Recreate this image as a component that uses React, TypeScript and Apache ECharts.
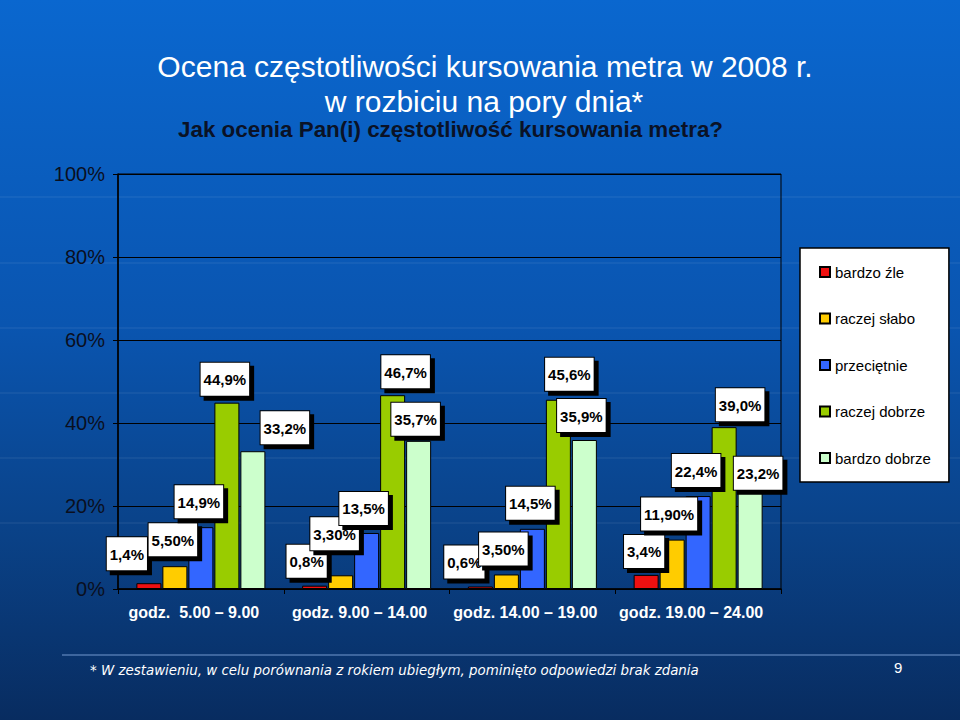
import React, { useEffect, useRef } from "react";
import * as echarts from "echarts";

const categories = [
  "godz.  5.00 – 9.00",
  "godz. 9.00 – 14.00",
  "godz. 14.00 – 19.00",
  "godz. 19.00 – 24.00",
];

const seriesNames = ["bardzo źle", "raczej słabo", "przeciętnie", "raczej dobrze", "bardzo dobrze"];

const bardzoZle = [1.4, 0.8, 0.6, 3.4];
const raczejSlabo = [5.5, 3.3, 3.5, 11.9];
const przecietnie = [14.9, 13.5, 14.5, 22.4];
const raczejDobrze = [44.9, 46.7, 45.6, 39.0];
const bardzoDobrze = [33.2, 35.7, 35.9, 23.2];

// label texts as printed on the chart (some with two decimals)
const bardzoZleLabels = ["1,4%", "0,8%", "0,6%", "3,4%"];
const raczejSlaboLabels = ["5,50%", "3,30%", "3,50%", "11,90%"];
const przecietnieLabels = ["14,9%", "13,5%", "14,5%", "22,4%"];
const raczejDobrzeLabels = ["44,9%", "46,7%", "45,6%", "39,0%"];
const bardzoDobrzeLabels = ["33,2%", "35,7%", "35,9%", "23,2%"];

const yTicks = [0, 20, 40, 60, 80, 100];

const seriesValues = [bardzoZle, raczejSlabo, przecietnie, raczejDobrze, bardzoDobrze];
const seriesLabels = [bardzoZleLabels, raczejSlaboLabels, przecietnieLabels, raczejDobrzeLabels, bardzoDobrzeLabels];

const colors = ["#ee1010", "#ffcc00", "#3366ff", "#99cc00", "#ccffcc"];

// label placement shifts [dx, dy] per series / category
const labelShift = [
  [[-22, -8], [-8, -3], [-16, -3], [-2, -2]],
  [[-2, -5], [-6, -20], [-3, -4], [-3, -4]],
  [[-2, -4], [-3, -3], [-2, -4], [-2, -4]],
  [[-2, -2], [13, -2], [11, -4], [16, -1]],
  [[32, -2], [-3, 0], [-3, -3], [8, 2]],
];

// faint decorative background lines
const bgLineYs = [197, 263, 328, 393, 458, 523];

export default function App() {
  const ref = useRef<HTMLDivElement>(null);

  useEffect(() => {
    if (!ref.current) return;
    const chart = echarts.init(ref.current, undefined, { renderer: "svg" });

    const series = seriesNames.map((name, si) => ({
      name,
      type: "bar",
      barWidth: 25,
      barGap: "4%",
      z: 3,
      itemStyle: { color: colors[si], borderColor: "#000", borderWidth: 1 },
      data: seriesValues[si].map((v, ci) => ({
        value: v,
        label: {
          offset: labelShift[si][ci],
          formatter: seriesLabels[si][ci],
        },
      })),
      label: {
        show: true,
        position: "top",
        distance: 5,
        color: "#000",
        fontFamily: "Arial, 'Liberation Sans', sans-serif",
        fontWeight: "bold",
        fontSize: 15,
        lineHeight: 16,
        backgroundColor: "#fff",
        borderColor: "#000",
        borderWidth: 1,
        padding: [9, 3, 8, 3],
        shadowColor: "#000",
        shadowOffsetX: 4,
        shadowOffsetY: 4,
        shadowBlur: 0,
      },
    }));

    const bgLines = bgLineYs.map((y) => ({
      type: "line",
      z: -1,
      silent: true,
      shape: { x1: 0, y1: y, x2: 960, y2: y },
      style: { stroke: "rgba(255,255,255,0.05)", lineWidth: 2 },
    }));

    const option: any = {
      animation: false,
      backgroundColor: {
        type: "linear",
        x: 0,
        y: 0,
        x2: 0,
        y2: 1,
        colorStops: [
          { offset: 0, color: "#0a67cf" },
          { offset: 0.45, color: "#0a55b0" },
          { offset: 0.75, color: "#0a4186" },
          { offset: 1, color: "#082c60" },
        ],
      },
      grid: {
        left: 118,
        right: 179,
        top: 174,
        bottom: 131,
        show: true,
        borderColor: "#000",
        borderWidth: 1,
        backgroundColor: "transparent",
      },
      legend: {
        orient: "vertical",
        left: 800,
        top: 248,
        icon: "rect",
        itemWidth: 10,
        itemHeight: 10,
        itemGap: 30.5,
        backgroundColor: "#fff",
        borderColor: "#000",
        borderWidth: 1.5,
        padding: [16, 18, 16, 19],
        textStyle: {
          fontFamily: "Arial, 'Liberation Sans', sans-serif",
          fontSize: 15,
          lineHeight: 16,
          color: "#000",
        },
        data: seriesNames,
      },
      xAxis: {
        type: "category",
        data: categories,
        axisLine: { show: true, lineStyle: { color: "#000", width: 1.5 } },
        axisTick: { show: true, length: 5, lineStyle: { color: "#000" } },
        axisLabel: {
          interval: 0,
          color: "#fff",
          fontFamily: "Arial, 'Liberation Sans', sans-serif",
          fontWeight: "bold",
          fontSize: 16,
          margin: 15,
          padding: [0, 14, 0, 0],
        },
      },
      yAxis: {
        type: "value",
        min: yTicks[0],
        max: yTicks[yTicks.length - 1],
        interval: yTicks[1] - yTicks[0],
        axisLine: { show: true, lineStyle: { color: "#000", width: 1.5 } },
        axisTick: { show: true, length: 5, lineStyle: { color: "#000" } },
        axisLabel: {
          formatter: "{value}%",
          color: "#0a0f1e",
          fontFamily: "Arial, 'Liberation Sans', sans-serif",
          fontSize: 20,
          margin: 13,
        },
        splitLine: { show: true, lineStyle: { color: "#000", width: 1 } },
      },
      graphic: [
        ...bgLines,
        {
          type: "text",
          x: 485,
          y: 51,
          z: 10,
          style: {
            text: "Ocena częstotliwości kursowania metra w 2008 r.",
            align: "center",
            font: "30px Arial, 'Liberation Sans', sans-serif",
            fill: "#fff",
            textShadowColor: "#000",
            textShadowOffsetX: 2,
            textShadowOffsetY: 2,
            textShadowBlur: 0,
          },
        },
        {
          type: "text",
          x: 484,
          y: 86,
          z: 10,
          style: {
            text: "w rozbiciu na pory dnia*",
            align: "center",
            font: "30px Arial, 'Liberation Sans', sans-serif",
            fill: "#fff",
            textShadowColor: "#000",
            textShadowOffsetX: 2,
            textShadowOffsetY: 2,
            textShadowBlur: 0,
          },
        },
        {
          type: "text",
          x: 178,
          y: 118,
          z: 10,
          style: {
            text: "Jak ocenia Pan(i) częstotliwość kursowania metra?",
            font: "bold 22.4px Arial, 'Liberation Sans', sans-serif",
            fill: "#0a1226",
          },
        },
        {
          type: "line",
          z: 1,
          shape: { x1: 62, y1: 655, x2: 960, y2: 655 },
          style: { stroke: "rgba(140,175,230,0.55)", lineWidth: 1.5 },
        },
        {
          type: "text",
          x: 90,
          y: 664,
          z: 10,
          style: {
            text: "* W zestawieniu, w celu porównania z rokiem ubiegłym, pominięto odpowiedzi brak zdania",
            font: "italic 13.4px 'DejaVu Sans', Verdana, sans-serif",
            fill: "#fff",
          },
        },
        {
          type: "text",
          x: 894,
          y: 660,
          z: 10,
          style: {
            text: "9",
            font: "15px Arial, 'Liberation Sans', sans-serif",
            fill: "#fff",
          },
        },
      ],
      series,
    };

    chart.setOption(option);
    return () => chart.dispose();
  }, []);

  return (
    <div
      ref={ref}
      style={{ position: "fixed", left: 0, top: 0, width: 960, height: 720 }}
    />
  );
}
